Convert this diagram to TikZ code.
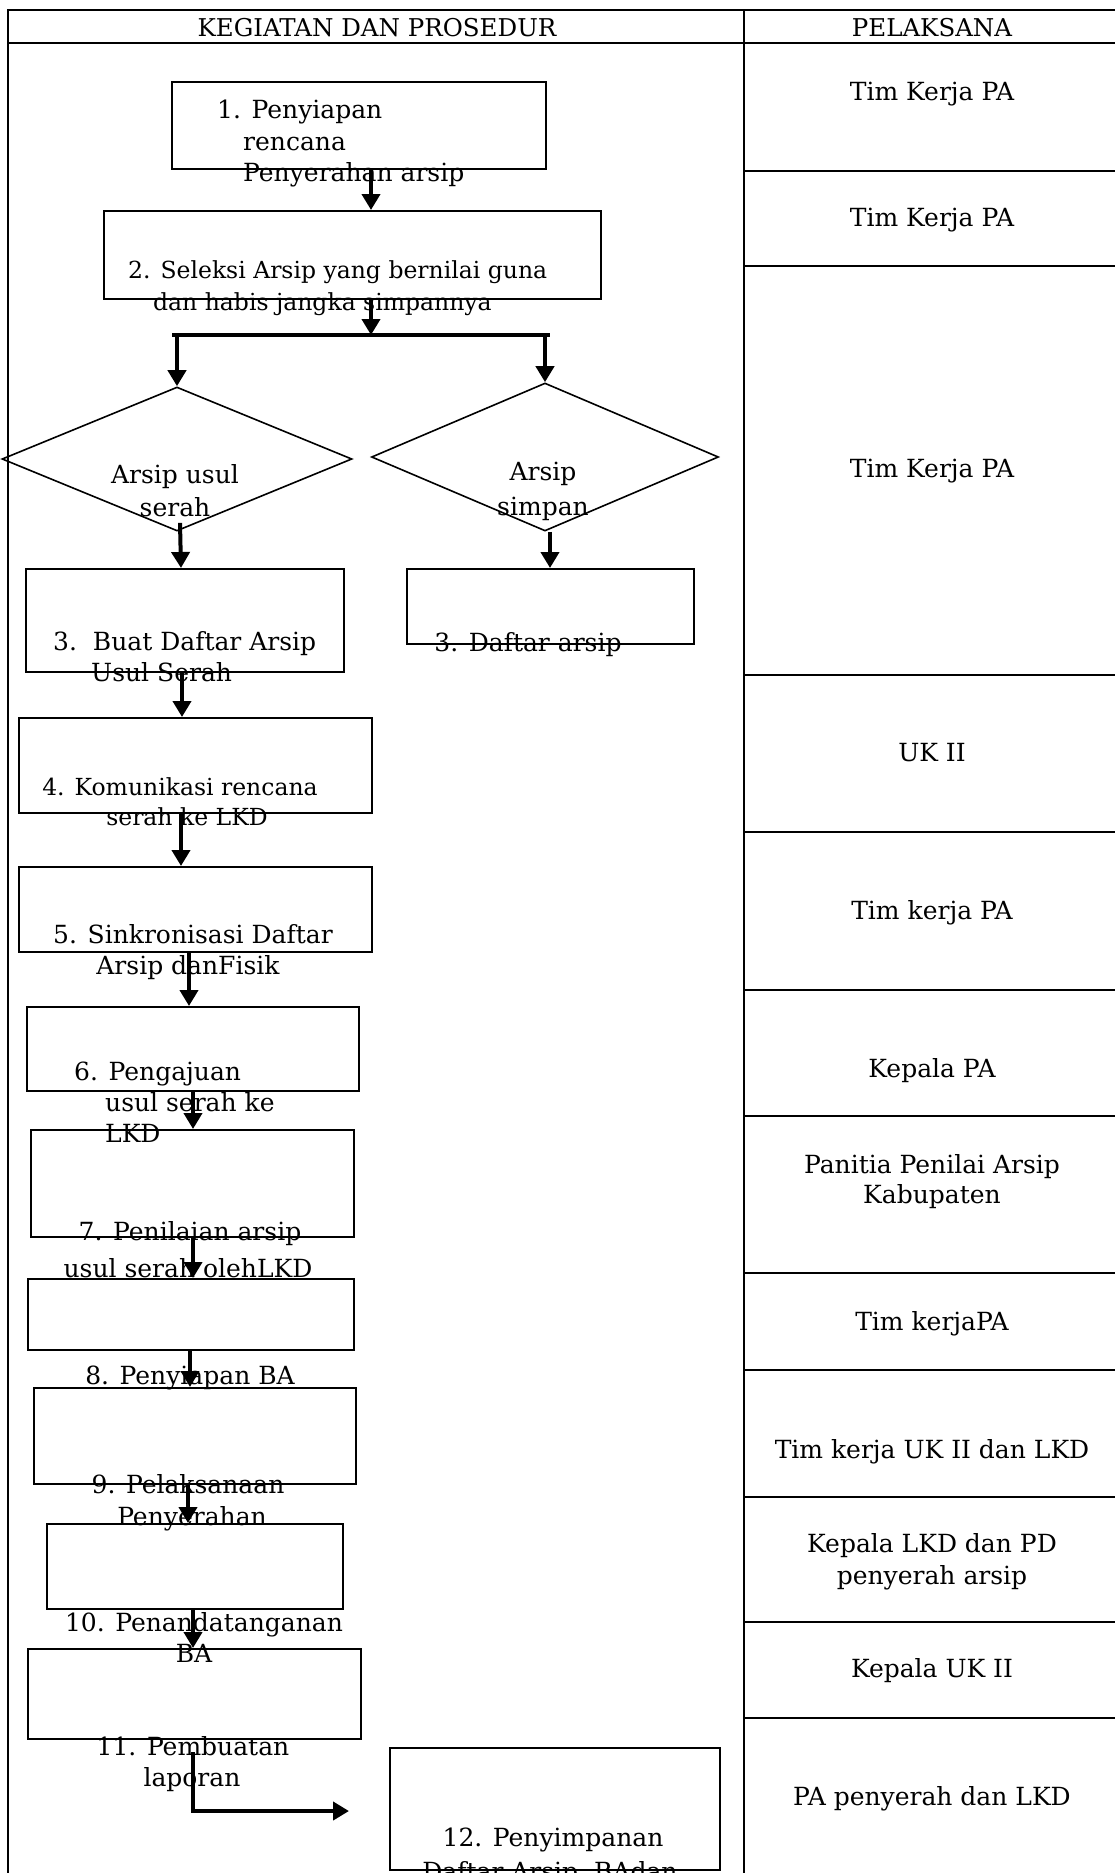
\documentclass[tikz,border=0pt]{standalone}
\usepackage{fontspec}
\setmainfont{DejaVu Serif}
\usetikzlibrary{arrows.meta,shapes.geometric,calc}
\begin{document}
\begin{tikzpicture}[x=1pt,y=-1pt,
  frame/.style={line width=2.5pt},
  stepbox/.style={draw,line width=2pt,rectangle,inner sep=0pt,anchor=north west},
  dia/.style={draw,line width=1.6pt,diamond,inner sep=0pt},
  arr/.style={line width=4pt,-{Triangle[length=16pt,width=18pt]}},
  thickline/.style={line width=4.5pt},
  txt/.style={inner sep=0pt,yshift=-6pt,font=\fontsize{25}{31}\selectfont},
  txs/.style={inner sep=0pt,yshift=-6pt,font=\fontsize{23.5}{30}\selectfont},
  txh/.style={inner sep=0pt,yshift=-1pt,font=\fontsize{24.5}{30}\selectfont},
]
\useasboundingbox (0,0) rectangle (1114,1873);

% table frame
\draw[frame] (1125,10) -- (8,10) -- (8,1885);
\draw[frame] (8,43) -- (1125,43);
\draw[frame] (744,10) -- (744,1885);
\foreach \yy in {171,266,675,832,990,1116,1273,1370,1497,1622,1718}
  \draw[frame] (744,\yy) -- (1125,\yy);

% header
\node[txh] (h1) at (377,27) {KEGIATAN DAN PROSEDUR};
\node[txh] (h2) at (932,27) {PELAKSANA};

% boxes
\node[stepbox,minimum width=374pt,minimum height=87pt] (b1) at (171,81) {};
\node[stepbox,minimum width=497pt,minimum height=88pt] (b2) at (103,210) {};
\node[dia,minimum width=350pt,minimum height=144pt] (d1) at (177,459) {};
\node[dia,minimum width=347pt,minimum height=148pt] (d2) at (545,457) {};
\node[stepbox,minimum width=318pt,minimum height=103pt] (b3) at (25,568) {};
\node[stepbox,minimum width=287pt,minimum height=75pt] (b3r) at (406,568) {};
\node[stepbox,minimum width=353pt,minimum height=95pt] (b4) at (18,717) {};
\node[stepbox,minimum width=353pt,minimum height=85pt] (b5) at (18,866) {};
\node[stepbox,minimum width=332pt,minimum height=84pt] (b6) at (26,1006) {};
\node[stepbox,minimum width=323pt,minimum height=107pt] (b7) at (30,1129) {};
\node[stepbox,minimum width=326pt,minimum height=71pt] (b8) at (27,1278) {};
\node[stepbox,minimum width=322pt,minimum height=96pt] (b9) at (33,1387) {};
\node[stepbox,minimum width=296pt,minimum height=85pt] (b10) at (46,1523) {};
\node[stepbox,minimum width=333pt,minimum height=90pt] (b11) at (27,1648) {};
\node[stepbox,minimum width=330pt,minimum height=122pt] (b12) at (389,1747) {};

% texts in the left column
\node[txt,anchor=mid west] (t1a) at (217,110) {1. Penyiapan};
\node[txt,anchor=mid west] (t1b) at (243,142) {rencana};
\node[txt,anchor=mid west] (t1c) at (243,173) {Penyerahan arsip};
\node[txs,anchor=mid west] (t2a) at (128,270) {2. Seleksi Arsip yang bernilai guna};
\node[txs,anchor=mid west] (t2b) at (153,302) {dan habis jangka simpannya};
\node[txt,anchor=mid] (td1a) at (175,475) {Arsip usul};
\node[txt,anchor=mid] (td1b) at (175,508) {serah};
\node[txt,anchor=mid] (td2a) at (543,472) {Arsip};
\node[txt,anchor=mid] (td2b) at (543,507) {simpan};
\node[txt,anchor=mid west] (t3a) at (53,642) {3.\ \ Buat Daftar Arsip};
\node[txt,anchor=mid west] (t3b) at (91,673) {Usul Serah};
\node[txt,anchor=mid] (t3r) at (528,643) {3. Daftar arsip};
\node[txs,anchor=mid] (t4a) at (180,787) {4. Komunikasi rencana};
\node[txs,anchor=mid] (t4b) at (187,817) {serah ke LKD};
\node[txt,anchor=mid] (t5a) at (193,935) {5. Sinkronisasi Daftar};
\node[txt,anchor=mid] (t5b) at (188,966) {Arsip danFisik};
\node[txt,anchor=mid west] (t6a) at (74,1072) {6. Pengajuan};
\node[txt,anchor=mid west] (t6b) at (105,1103) {usul serah ke};
\node[txt,anchor=mid west] (t6c) at (105,1134) {LKD};
\node[txt,anchor=mid] (t7a) at (190,1232) {7. Penilaian arsip};
\node[txt,anchor=mid] (t7b) at (188,1269) {usul serah olehLKD};
\node[txt,anchor=mid] (t8) at (190,1376) {8. Penyiapan BA};
\node[txt,anchor=mid] (t9a) at (188,1485) {9. Pelaksanaan};
\node[txt,anchor=mid] (t9b) at (192,1517) {Penyerahan};
\node[txt,anchor=mid] (t10a) at (204,1623) {10. Penandatanganan};
\node[txt,anchor=mid] (t10b) at (194,1654) {BA};
\node[txt,anchor=mid] (t11a) at (193,1747) {11. Pembuatan};
\node[txt,anchor=mid] (t11b) at (192,1778) {laporan};
\node[txt,anchor=mid] (t12a) at (553,1838) {12. Penyimpanan};
\node[txt,anchor=mid] (t12b) at (550,1872) {Daftar Arsip, BAdan};

% texts in the right column
\node[txt,anchor=mid] (p1) at (932,92) {Tim Kerja PA};
\node[txt,anchor=mid] (p2) at (932,218) {Tim Kerja PA};
\node[txt,anchor=mid] (p3) at (932,469) {Tim Kerja PA};
\node[txt,anchor=mid] (p4) at (932,753) {UK II};
\node[txt,anchor=mid] (p5) at (932,911) {Tim kerja PA};
\node[txt,anchor=mid] (p6) at (932,1069) {Kepala PA};
\node[txt,anchor=mid] (p7a) at (932,1165) {Panitia Penilai Arsip};
\node[txt,anchor=mid] (p7b) at (932,1195) {Kabupaten};
\node[txt,anchor=mid] (p8) at (932,1322) {Tim kerjaPA};
\node[txt,anchor=mid] (p9) at (932,1450) {Tim kerja UK II dan LKD};
\node[txt,anchor=mid] (p10a) at (932,1544) {Kepala LKD dan PD};
\node[txt,anchor=mid] (p10b) at (932,1576) {penyerah arsip};
\node[txt,anchor=mid] (p11) at (932,1669) {Kepala UK II};
\node[txt,anchor=mid] (p12) at (932,1797) {PA penyerah dan LKD};

% connector columns
\coordinate (k0) at (371,0);
\coordinate (kr) at (550,0);
\coordinate (k3) at (182,0);
\coordinate (k4) at (181,0);
\coordinate (k5) at (189,0);
\coordinate (k6) at (193,0);
\coordinate (k8) at (190,0);
\coordinate (k9) at (188,0);
\coordinate (s) at (371,335);
\coordinate (sl) at (172,335);
\coordinate (sr) at (550,335);
\coordinate (e) at (349,1811);

% connectors
\draw[arr] (b1.south -| k0) -- (b2.north -| k0);
\draw[arr] (b2.south -| k0) -- (s);
\draw[thickline] (sl) -- (sr);
\draw[arr] (d1.north |- s) -- (d1.north);
\draw[arr] (d2.north |- s) -- (d2.north);
\draw[arr] ($(d1.south)+(3,-9)$) -- ($(b3.north)+(-4,0)$);
\draw[arr] (d2.south -| kr) -- (b3r.north -| kr);
\draw[arr] (b3.south -| k3) -- (b4.north -| k3);
\draw[arr] (b4.south -| k4) -- (b5.north -| k4);
\draw[arr] (b5.south -| k5) -- (b6.north -| k5);
\draw[arr] (b6.south -| k6) -- (b7.north -| k6);
\draw[arr] (b7.south -| k6) -- (b8.north -| k6);
\draw[arr] (b8.south -| k8) -- (b9.north -| k8);
\draw[arr] (b9.south -| k9) -- (b10.north -| k9);
\draw[arr] (b10.south -| k6) -- (b11.north -| k6);
\draw[thickline,-{Triangle[length=16pt,width=18pt]}] ($(b11.south -| k6)+(0,12)$) |- (e);
\end{tikzpicture}
\end{document}
